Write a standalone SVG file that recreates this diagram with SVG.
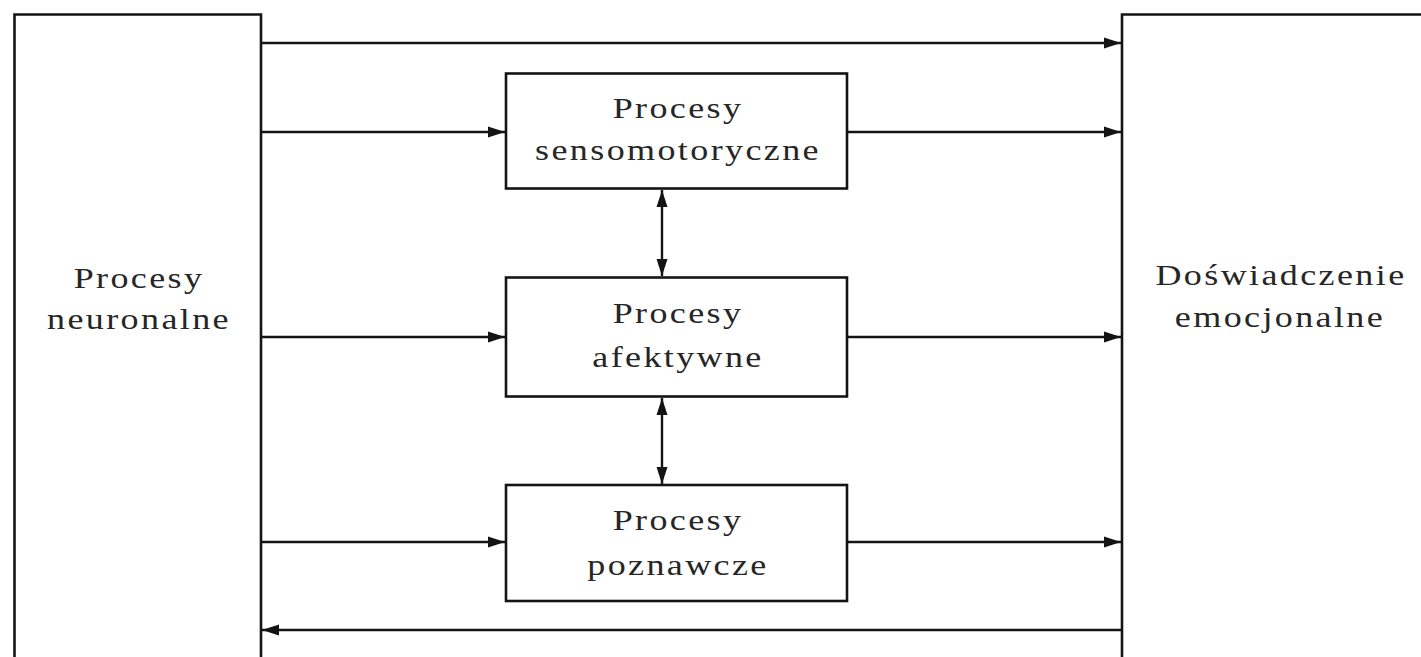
<svg xmlns="http://www.w3.org/2000/svg" width="1421" height="657" viewBox="0 0 1421 657">
<style>
.box{fill:#fff;stroke:#141414;stroke-width:2.6}
.ln{fill:none;stroke:#141414;stroke-width:2.4}
.t{font-family:"Liberation Serif","Times New Roman",serif;font-size:30px;fill:#262626;text-anchor:middle;letter-spacing:2px}
</style>
<defs>
<marker id="ah" markerUnits="userSpaceOnUse" markerWidth="18" markerHeight="12" refX="17" refY="5.5" orient="auto-start-reverse" viewBox="0 0 18 11">
<path d="M0,0 L17,5.5 L0,11 Z" fill="#141414"/>
</marker>
</defs>
<rect width="1421" height="657" fill="#fff"/>
<g id="neuronalne">
<path class="box" d="M14.5,660 V14.5 H261 V660"/>
<text class="t" transform="translate(139,288) scale(1.2,1)">Procesy</text>
<text class="t" transform="translate(139,329) scale(1.2,1)">neuronalne</text>
</g>
<g id="doswiadczenie">
<path class="box" d="M1122,660 V14.5 H1425"/>
<text class="t" transform="translate(1281,285) scale(1.2,1)">Doświadczenie</text>
<text class="t" transform="translate(1280,327) scale(1.2,1)">emocjonalne</text>
</g>
<g id="sensomotoryczne">
<rect class="box" x="506" y="73.5" width="341" height="115"/>
<text class="t" transform="translate(678,118) scale(1.2,1)">Procesy</text>
<text class="t" transform="translate(678,160) scale(1.2,1)">sensomotoryczne</text>
</g>
<g id="afektywne">
<rect class="box" x="506" y="277.5" width="341" height="119"/>
<text class="t" transform="translate(678,323) scale(1.2,1)">Procesy</text>
<text class="t" transform="translate(678,367) scale(1.2,1)">afektywne</text>
</g>
<g id="poznawcze">
<rect class="box" x="506" y="485" width="341" height="116"/>
<text class="t" transform="translate(678,530) scale(1.2,1)">Procesy</text>
<text class="t" transform="translate(678,575) scale(1.2,1)">poznawcze</text>
</g>
<g id="connectors">
<line class="ln" x1="262" y1="43" x2="1121" y2="43" marker-end="url(#ah)"/>
<line class="ln" x1="262" y1="132" x2="505" y2="132" marker-end="url(#ah)"/>
<line class="ln" x1="848" y1="132" x2="1121" y2="132" marker-end="url(#ah)"/>
<line class="ln" x1="262" y1="337" x2="505" y2="337" marker-end="url(#ah)"/>
<line class="ln" x1="848" y1="337" x2="1121" y2="337" marker-end="url(#ah)"/>
<line class="ln" x1="262" y1="542" x2="505" y2="542" marker-end="url(#ah)"/>
<line class="ln" x1="848" y1="542" x2="1121" y2="542" marker-end="url(#ah)"/>
<line class="ln" x1="1121" y1="630" x2="262" y2="630" marker-end="url(#ah)"/>
<line class="ln" x1="662" y1="190" x2="662" y2="276" marker-start="url(#ah)" marker-end="url(#ah)"/>
<line class="ln" x1="662" y1="398" x2="662" y2="484" marker-start="url(#ah)" marker-end="url(#ah)"/>
</g>
</svg>
